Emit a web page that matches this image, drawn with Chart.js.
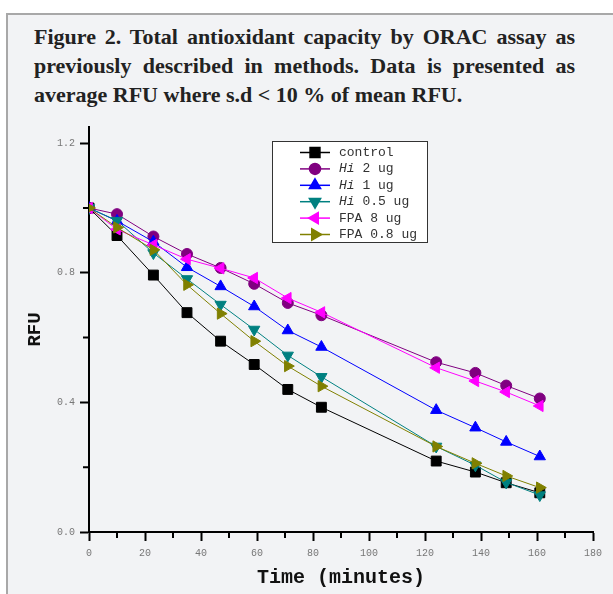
<!DOCTYPE html>
<html>
<head>
<meta charset="utf-8">
<script src="https://cdn.jsdelivr.net/npm/chart.js@4.4.0/dist/chart.umd.min.js"></script>
<style>
  body { margin: 0; background: #fff; width: 613px; height: 594px; overflow: hidden; position: relative; }
  #panel { position: absolute; left: 6px; top: 13px; width: 640px; height: 620px;
           background: #f2f3f5; border: 2px solid #a8a8a8; box-sizing: border-box; }
  .tl { position: absolute; left: 34px; width: 541px; font-family: "Liberation Serif", serif;
        font-weight: bold; font-size: 22px; color: #222; white-space: nowrap; }
  .just { text-align: justify; text-align-last: justify; }
  #wrap { position: absolute; left: 0; top: 110px; width: 613px; height: 484px; }
</style>
</head>
<body>
<div id="panel"></div>
<div class="tl just" style="top:24px">Figure 2. Total antioxidant capacity by ORAC assay as</div>
<div class="tl just" style="top:53px">previously described in methods. Data is presented as</div>
<div class="tl" style="top:82px">average RFU where s.d &lt; 10 % of mean RFU.</div>
<div id="wrap"><canvas id="orac"></canvas></div>
<script>
// time points (minutes)
const times = [0, 10, 23, 35, 47, 59, 71, 83, 124, 138, 149, 161];

// average RFU per series
const control = [1.0, 0.915, 0.793, 0.677, 0.589, 0.517, 0.44, 0.385, 0.219, 0.185, 0.152, 0.121];
const hi2     = [1.0, 0.981, 0.912, 0.858, 0.815, 0.766, 0.707, 0.669, 0.524, 0.491, 0.452, 0.412];
const hi1     = [1.0, 0.96, 0.896, 0.817, 0.758, 0.696, 0.622, 0.571, 0.376, 0.322, 0.278, 0.233];
const hi05    = [1.0, 0.961, 0.861, 0.781, 0.702, 0.625, 0.545, 0.479, 0.264, 0.206, 0.153, 0.114];
const fpa8    = [1.0, 0.934, 0.886, 0.842, 0.814, 0.784, 0.722, 0.678, 0.507, 0.466, 0.432, 0.389];
const fpa08   = [1.0, 0.94, 0.871, 0.763, 0.674, 0.589, 0.512, 0.45, 0.264, 0.212, 0.173, 0.137];

// axis ticks
const xTicks = [0, 10, 20, 30, 40, 50, 60, 70, 80, 90, 100, 110, 120, 130, 140, 150, 160, 170, 180];
const xLabelEvery = 20;
const yTicks = [0, 0.2, 0.4, 0.6, 0.8, 1.0, 1.2];
const yLabels = ['0.0', '', '0.4', '', '0.8', '', '1.2'];

// legend text: italic prefix + rest
const legendItalic = ['', 'Hi', 'Hi', 'Hi', '', ''];
const legendRest   = ['control', ' 2 ug', ' 1 ug', ' 0.5 ug', 'FPA 8 ug', 'FPA 0.8 ug'];

const mono = '"Liberation Mono", monospace';

function series(label, vals, color, style, rot, r, order) {
    return {
        label: label,
        data: times.map((t, i) => ({x: t, y: vals[i]})),
        borderColor: color,
        backgroundColor: color,
        borderWidth: 1,
        pointStyle: style,
        pointRotation: rot,
        pointRadius: r,
        pointHoverRadius: r,
        pointBorderWidth: 1,
        order: order
    };
}

const datasets = [
    series('control', control, '#000000', 'rect', 0, 7, 6),
    series('Hi 2 ug', hi2, '#800080', 'circle', 0, 5.5, 5),
    series('Hi 1 ug', hi1, '#0000ff', 'triangle', 0, 6.5, 4),
    series('Hi 0.5 ug', hi05, '#008080', 'triangle', 180, 6.5, 3),
    series('FPA 8 ug', fpa8, '#ff00ff', 'triangle', 270, 6.5, 2),
    series('FPA 0.8 ug', fpa08, '#808000', 'triangle', 90, 6.5, 1)
];

// short minor ticks
const minorTicks = {
    id: 'minorTicks',
    afterDatasetsDraw(chart) {
        const c = chart.ctx, xs = chart.scales.x, ys = chart.scales.y;
        c.save();
        c.strokeStyle = '#000';
        c.lineWidth = 2;
        c.beginPath();
        xTicks.forEach(v => {
            if (v % xLabelEvery !== 0) {
                const px = xs.getPixelForValue(v);
                c.moveTo(px, ys.bottom); c.lineTo(px, ys.bottom + 6);
            }
        });
        yTicks.forEach((v, i) => {
            if (!yLabels[i]) {
                const py = ys.getPixelForValue(v);
                c.moveTo(xs.left, py); c.lineTo(xs.left - 6, py);
            }
        });
        c.stroke();
        c.restore();
    }
};

// boxed legend inside the plot
const boxLegend = {
    id: 'boxLegend',
    afterDraw(chart) {
        const c = chart.ctx;
        const bx = 272, by = 31, bw = 155, bh = 101;
        c.save();
        c.fillStyle = '#ffffff';
        c.fillRect(bx, by, bw, bh);
        c.strokeStyle = '#333';
        c.lineWidth = 1;
        c.strokeRect(bx + 0.5, by + 0.5, bw, bh);
        chart.data.datasets.forEach((ds, i) => {
            const y = by + 11.5 + i * 16.4;
            c.strokeStyle = ds.borderColor;
            c.lineWidth = 1.5;
            c.beginPath(); c.moveTo(bx + 28, y); c.lineTo(bx + 58, y); c.stroke();
            c.fillStyle = ds.backgroundColor;
            Chart.helpers.drawPoint(c, {pointStyle: ds.pointStyle, rotation: ds.pointRotation,
                radius: ds.pointRadius, borderWidth: 1}, bx + 43, y);
            c.fillStyle = '#333';
            c.textBaseline = 'middle';
            let tx = bx + 67;
            if (legendItalic[i]) {
                c.font = 'italic 13px ' + mono;
                c.fillText(legendItalic[i], tx, y);
                tx += c.measureText(legendItalic[i]).width;
            }
            c.font = '13px ' + mono;
            c.fillText(legendRest[i], tx, y);
        });
        c.restore();
    }
};

new Chart(document.getElementById('orac'), {
    type: 'line',
    data: { datasets: datasets },
    plugins: [minorTicks, boxLegend],
    options: {
        responsive: true,
        maintainAspectRatio: false,
        animation: false,
        layout: { padding: { left: 0, top: 17, right: 20, bottom: 0 } },
        plugins: { legend: { display: false }, tooltip: { enabled: false } },
        scales: {
            x: {
                type: 'linear',
                min: 0, max: 180,
                afterBuildTicks: s => { s.ticks = xTicks.map(v => ({value: v})); },
                afterFit: s => { s.height = 62; },
                border: { color: '#000', width: 2 },
                grid: { drawOnChartArea: false, tickLength: 9, tickWidth: 2,
                        tickColor: ctx => (ctx.tick && ctx.tick.value % xLabelEvery === 0) ? '#000' : 'rgba(0,0,0,0)' },
                ticks: { autoSkip: false, maxRotation: 0, padding: 6, color: '#777',
                         font: { family: mono, size: 10 },
                         callback: v => (v % xLabelEvery === 0 ? String(v) : '') },
                title: { display: true, text: 'Time (minutes)', color: '#111',
                         font: { family: mono, size: 20, weight: 'bold' }, padding: { top: 4, bottom: 4 } }
            },
            y: {
                min: 0, max: 1.25,
                afterBuildTicks: s => { s.ticks = yTicks.map(v => ({value: v})); },
                afterFit: s => { s.width = 89; },
                border: { color: '#000', width: 2 },
                grid: { drawOnChartArea: false, tickLength: 9, tickWidth: 2,
                        tickColor: ctx => (ctx.index !== undefined && yLabels[ctx.index]) ? '#000' : 'rgba(0,0,0,0)' },
                ticks: { autoSkip: false, padding: 5, color: '#777',
                         font: { family: mono, size: 10 },
                         callback: (v, i) => yLabels[i] },
                title: { display: true, text: 'RFU', color: '#111',
                         font: { family: mono, size: 19, weight: 'bold' }, padding: { top: 24, bottom: 4 } }
            }
        }
    }
});
</script>
</body>
</html>
